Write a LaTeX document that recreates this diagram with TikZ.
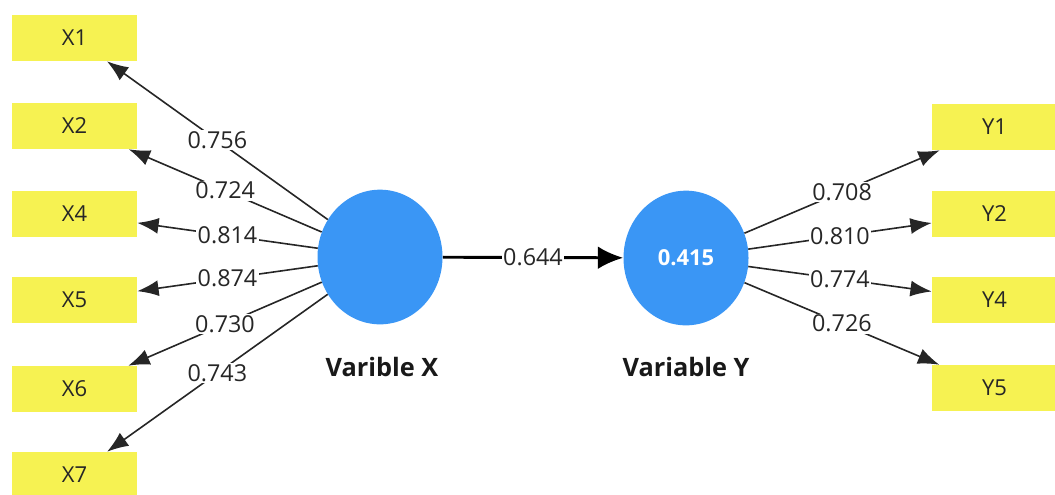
\documentclass[tikz,border=0pt]{standalone}
\usepackage{fontspec}
\setmainfont{Open Sans}
\usetikzlibrary{arrows.meta,shapes.geometric}
\definecolor{itemyellow}{RGB}{246,242,82}
\definecolor{latentblue}{RGB}{58,150,245}
\begin{document}
\begin{tikzpicture}[x=0.75pt,y=-0.75pt,
    item/.style={fill=itemyellow, draw=none, minimum width=93.75pt, minimum height=34.5pt, inner sep=0pt, text=black!85, font=\fontsize{16.5}{19}\selectfont},
    latent/.style={ellipse, fill=latentblue, draw=none, minimum width=93.75pt, minimum height=101pt, inner sep=0pt, text=white, font=\bfseries\fontsize{16.5}{19}\selectfont},
    latlabel/.style={font=\bfseries\fontsize{19}{22}\selectfont, text=black!90},
    load/.style={-{Latex[length=16pt,width=12pt]}, line width=1.2pt, black!85},
    inner/.style={-{Latex[length=19pt,width=17pt]}, line width=2.2pt, black},
    val/.style={fill=white, inner sep=1pt, text=black!85, font=\fontsize{17.5}{20}\selectfont}]
    \useasboundingbox (0,0) rectangle (1055,494);
    \node[latent] (vx) at (380, 257) {};
    \node[latent] (vy) at (686, 258) {0.415};
    \node[latlabel] (nx) at (382, 367) {Varible X};
    \node[latlabel] (ny) at (686, 367) {Variable Y};
    \node[item] (x1) at (74.5, 38) {X1};
    \node[item] (x2) at (74.5, 126) {X2};
    \node[item] (x4) at (74.5, 214) {X4};
    \node[item] (x5) at (74.5, 300) {X5};
    \node[item] (x6) at (74.5, 389) {X6};
    \node[item] (x7) at (74.5, 475) {X7};
    \node[item] (y1) at (994.5, 127) {Y1};
    \node[item] (y2) at (994.5, 214) {Y2};
    \node[item] (y4) at (994.5, 300) {Y4};
    \node[item] (y5) at (994.5, 388) {Y5};
    \draw [load] (vx) -- node[val] {0.756} (x1);
    \draw [load] (vx) -- node[val] {0.724} (x2);
    \draw [load] (vx) -- node[val] {0.814} (x4);
    \draw [load] (vx) -- node[val] {0.874} (x5);
    \draw [load] (vx) -- node[val] {0.730} (x6);
    \draw [load] (vx) -- node[val] {0.743} (x7);
    \draw [load] (vy) -- node[val] {0.708} (y1);
    \draw [load] (vy) -- node[val] {0.810} (y2);
    \draw [load] (vy) -- node[val] {0.774} (y4);
    \draw [load] (vy) -- node[val] {0.726} (y5);
    \draw [inner] (vx) -- node[val] {0.644} (vy);
\end{tikzpicture}
\end{document}
